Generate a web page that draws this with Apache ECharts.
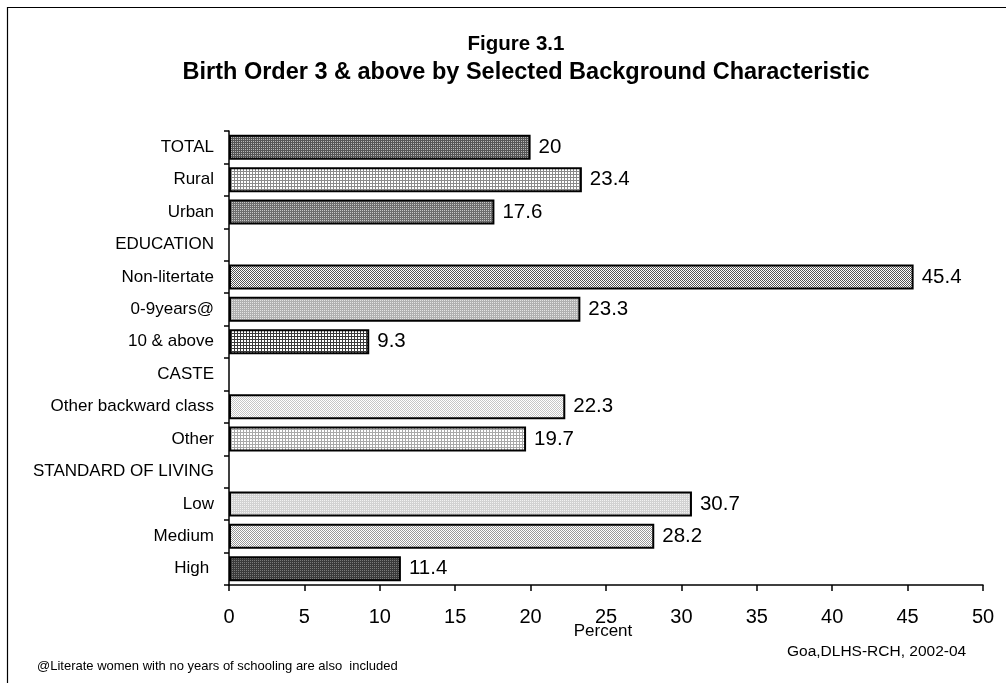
<!DOCTYPE html>
<html>
<head>
<meta charset="utf-8">
<style>
  html, body { margin: 0; padding: 0; background: #fff; }
  #chart { width: 1006px; height: 683px; }
</style>
<script src="https://cdn.jsdelivr.net/npm/echarts@6/dist/echarts.min.js"></script>
</head>
<body>
<div id="chart"></div>
<script>
// Birth order 3 & above, by background characteristic (percent)
const categories = [
  'TOTAL', 'Rural', 'Urban',
  'EDUCATION', 'Non-litertate', '0-9years@', '10 & above',
  'CASTE', 'Other backward class', 'Other',
  'STANDARD OF LIVING', 'Low', 'Medium', 'High '
];
const values = [20, 23.4, 17.6, '-', 45.4, 23.3, 9.3, '-', 22.3, 19.7, '-', 30.7, 28.2, 11.4];
const xTicks = [0, 5, 10, 15, 20, 25, 30, 35, 40, 45, 50];

// Hatch fill for each bar: [kind, background, ink]
const fills = [
  ['grid2', '#b8b8b8', '#555555'],
  ['grid3', '#ffffff', '#8a8a8a'],
  ['dots', '#6e6e6e', '#c8c8c8'],
  null,
  ['checker', '#ffffff', '#555555'],
  ['dots', '#b0b0b0', '#e4e4e4'],
  ['grid3', '#ffffff', '#3a3a3a'],
  null,
  ['checker', '#ffffff', '#c6c6c6'],
  ['grid3', '#ffffff', '#a8a8a8'],
  null,
  ['dots', '#d2d2d2', '#f2f2f2'],
  ['checker', '#ffffff', '#999999'],
  ['dots', '#3a3a3a', '#7a7a7a']
];

function makePattern(kind, bg, ink) {
  const c = document.createElement('canvas');
  const n = kind === 'grid3' ? 3 : 2;
  c.width = n; c.height = n;
  const g = c.getContext('2d');
  g.fillStyle = bg; g.fillRect(0, 0, n, n);
  g.fillStyle = ink;
  if (kind === 'grid2') {
    g.fillRect(0, 0, 2, 1); g.fillRect(0, 0, 1, 2);
  } else if (kind === 'grid3') {
    g.fillRect(0, 0, 3, 1); g.fillRect(0, 0, 1, 3);
  } else if (kind === 'checker') {
    g.fillRect(0, 0, 1, 1); g.fillRect(1, 1, 1, 1);
  } else if (kind === 'dots') {
    g.fillRect(0, 0, 1, 1);
  }
  return { image: c, repeat: 'repeat' };
}

const font = "'Liberation Sans', Arial, sans-serif";

const seriesData = values.map((v, i) => {
  const f = fills[i];
  return {
    value: v,
    itemStyle: f ? { color: makePattern(f[0], f[1], f[2]) } : undefined
  };
});

const chart = echarts.init(document.getElementById('chart'), null, { renderer: 'canvas' });
chart.setOption({
  backgroundColor: '#ffffff',
  animation: false,
  textStyle: { fontFamily: font },
  grid: { left: 229, right: 23, top: 131, bottom: 98, containLabel: false },
  xAxis: {
    type: 'value', min: 0, max: 50, interval: 5,
    axisLine: { show: true, lineStyle: { color: '#000', width: 1.5 } },
    axisTick: { show: true, length: 6, lineStyle: { color: '#000', width: 1.5 } },
    splitLine: { show: false },
    axisLabel: {
      fontFamily: font, fontSize: 20, color: '#000', margin: 22,
      formatter: v => xTicks.includes(v) ? String(v) : ''
    }
  },
  yAxis: {
    type: 'category', data: categories, inverse: true,
    axisLine: { show: true, lineStyle: { color: '#000', width: 1.5 } },
    axisTick: { show: true, length: 5, alignWithLabel: false, lineStyle: { color: '#000', width: 1.5 } },
    axisLabel: { fontFamily: font, fontSize: 17, color: '#000', margin: 15 }
  },
  series: [{
    type: 'bar',
    data: seriesData,
    barWidth: 25,
    itemStyle: { borderColor: '#000', borderWidth: 2 },
    label: {
      show: true, position: 'right', distance: 8,
      fontFamily: font, fontSize: 20.5, color: '#000',
      formatter: p => String(p.value)
    }
  }],
  graphic: [
    { type: 'rect', shape: { x: 7.5, y: 7.5, width: 1010, height: 700 },
      style: { fill: 'none', stroke: '#000', lineWidth: 1.2 }, silent: true },
    { type: 'text', x: 516, y: 44, style: { text: 'Figure 3.1', fontFamily: font, fontSize: 20.5, fontWeight: 'bold', fill: '#000', align: 'center', verticalAlign: 'middle' } },
    { type: 'text', x: 526, y: 73, style: { text: 'Birth Order 3 & above by Selected Background Characteristic', fontFamily: font, fontSize: 23.5, fontWeight: 'bold', fill: '#000', align: 'center', verticalAlign: 'middle' } },
    { type: 'text', x: 603, y: 631, style: { text: 'Percent', fontFamily: font, fontSize: 17, fill: '#000', align: 'center', verticalAlign: 'middle' } },
    { type: 'text', x: 787, y: 652, style: { text: 'Goa,DLHS-RCH, 2002-04', fontFamily: font, fontSize: 15.5, fill: '#000', align: 'left', verticalAlign: 'middle' } },
    { type: 'text', x: 37, y: 666, style: { text: '@Literate women with no years of schooling are also  included', fontFamily: font, fontSize: 13, fill: '#000', align: 'left', verticalAlign: 'middle' } }
  ]
});
</script>
</body>
</html>
